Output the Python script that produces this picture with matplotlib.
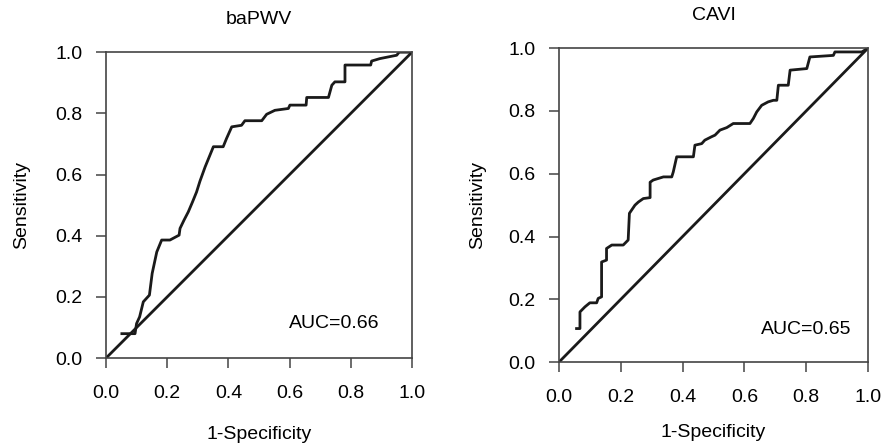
import matplotlib
matplotlib.use("Agg")
import matplotlib.pyplot as plt

# ROC curve points (1-specificity, sensitivity)
bapwv_fpr = [0.052, 0.095, 0.100, 0.110, 0.122, 0.142, 0.151, 0.166, 0.182, 0.209, 0.239, 0.242,
             0.255, 0.269, 0.283, 0.296, 0.307, 0.324, 0.351, 0.383, 0.394, 0.411, 0.443, 0.454,
             0.509, 0.525, 0.552, 0.596, 0.601, 0.654, 0.656, 0.727, 0.738, 0.748, 0.781, 0.781,
             0.865, 0.868, 0.895, 0.950, 0.958, 1.0]
bapwv_tpr = [0.080, 0.080, 0.113, 0.135, 0.184, 0.206, 0.277, 0.347, 0.386, 0.386, 0.402, 0.424,
             0.451, 0.478, 0.511, 0.543, 0.578, 0.625, 0.691, 0.691, 0.718, 0.756, 0.761, 0.776,
             0.776, 0.797, 0.810, 0.816, 0.827, 0.827, 0.852, 0.852, 0.892, 0.903, 0.903, 0.958,
             0.958, 0.971, 0.979, 0.990, 1.0, 1.0]

cavi_fpr = [0.057, 0.068, 0.068, 0.084, 0.100, 0.122, 0.127, 0.138, 0.138, 0.154, 0.154, 0.171,
            0.208, 0.224, 0.228, 0.246, 0.257, 0.273, 0.295, 0.295, 0.305, 0.338, 0.365, 0.370,
            0.381, 0.435, 0.440, 0.462, 0.472, 0.494, 0.505, 0.521, 0.543, 0.564, 0.618, 0.629,
            0.640, 0.656, 0.677, 0.694, 0.705, 0.710, 0.742, 0.748, 0.802, 0.812, 0.888, 0.893,
            0.980, 1.0]
cavi_tpr = [0.107, 0.107, 0.160, 0.176, 0.189, 0.189, 0.203, 0.208, 0.319, 0.325, 0.362, 0.373,
            0.373, 0.389, 0.474, 0.500, 0.510, 0.521, 0.524, 0.573, 0.580, 0.590, 0.590, 0.606,
            0.654, 0.654, 0.691, 0.696, 0.707, 0.718, 0.723, 0.739, 0.747, 0.760, 0.760, 0.776,
            0.797, 0.818, 0.829, 0.834, 0.834, 0.882, 0.882, 0.930, 0.935, 0.972, 0.977, 0.988,
            0.988, 1.0]

titles = ["baPWV", "CAVI"]
aucs = ["AUC=0.66", "AUC=0.65"]
ticks = [0.0, 0.2, 0.4, 0.6, 0.8, 1.0]

plt.rcParams['font.family'] = ['Liberation Sans', 'DejaVu Sans']

fig = plt.figure(figsize=(8.83, 4.46), dpi=100)
ax1 = fig.add_axes([0.120, 0.197, 0.3466, 0.686])
ax2 = fig.add_axes([0.633, 0.188, 0.350, 0.704])

curves = [(bapwv_fpr, bapwv_tpr), (cavi_fpr, cavi_tpr)]
auc_pos = [(0.745, 0.114), (0.80, 0.105)]
xpads = [17.5, 13.5]
ypads = [18, 16]
fs = 14

for ax, (fx, ty), title, auc, pos, xp, yp in zip([ax1, ax2], curves, titles, aucs, auc_pos, xpads, ypads):
    ax.plot([0, 1], [0, 1], color='#1a1a1a', lw=2.0, solid_capstyle='butt')
    ax.plot(fx, ty, color='#1a1a1a', lw=2.0)
    ax.set_xlim(0, 1)
    ax.set_ylim(0, 1)
    ax.set_xticks(ticks)
    ax.set_yticks(ticks)
    ax.set_xticklabels(["%.1f" % t for t in ticks])
    ax.set_yticklabels(["%.1f" % t for t in ticks])
    ax.tick_params(direction='out', length=7, width=1.1, labelsize=fs, color='#444444')
    ax.tick_params(axis='x', pad=12)
    ax.tick_params(axis='y', pad=10)
    for s in ax.spines.values():
        s.set_color('#444444')
        s.set_linewidth(1.2)
    ax.set_title(title, fontsize=fs, pad=20)
    ax.set_xlabel("1-Specificity", fontsize=fs, labelpad=xp)
    ax.set_ylabel("Sensitivity", fontsize=fs, labelpad=yp)
    ax.text(pos[0], pos[1], auc, fontsize=fs, ha='center', va='center')

fig.savefig("out.png", dpi=100)
